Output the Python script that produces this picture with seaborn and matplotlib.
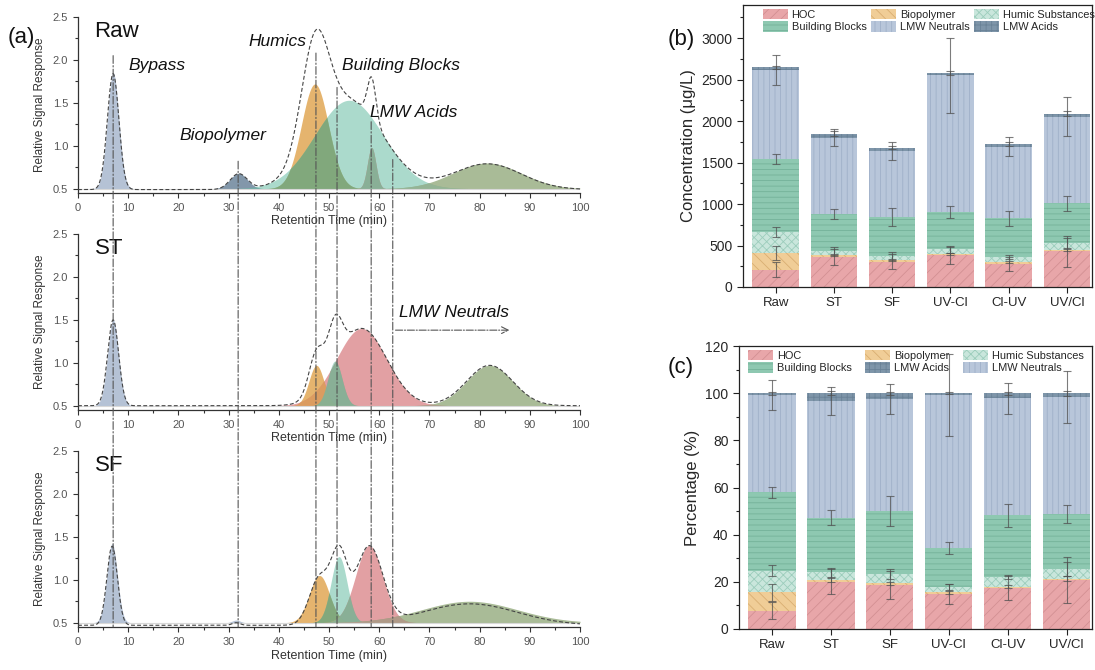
import numpy as np
import pandas as pd
import matplotlib
matplotlib.use("Agg")
import matplotlib.pyplot as plt
import seaborn as sns
from matplotlib.patches import ConnectionPatch, Patch
from matplotlib.ticker import MultipleLocator

sns.set_theme(style="ticks")
plt.rcParams["font.family"] = ["Liberation Sans", "DejaVu Sans"]
plt.rcParams["hatch.linewidth"] = 0.6

# ---------------------------------------------------------------- chromatograms
# each fitted peak: centre (min), apex height above baseline, sigma (min), colour key
raw_center = [7.0, 32.0, 47.2, 54.0, 58.5, 81.5]
raw_height = [1.35, 0.18, 1.22, 1.03, 0.48, 0.30]
raw_sigma = [1.15, 1.7, 2.7, 6.8, 0.85, 6.8]
raw_kind = ["bypass", "biopoly", "orange", "teal", "pink", "olive"]

st_center = [7.0, 47.5, 51.2, 56.5, 82.0]
st_height = [1.0, 0.47, 0.52, 0.90, 0.47]
st_sigma = [1.1, 1.5, 1.4, 5.0, 4.6]
st_kind = ["bypass", "orange", "teal", "pink", "olive"]

sf_center = [6.8, 31.5, 48.1, 52.0, 58.0, 78.0]
sf_height = [0.92, 0.03, 0.55, 0.77, 0.90, 0.25]
sf_sigma = [1.05, 0.8, 2.0, 1.6, 2.7, 9.5]
sf_kind = ["bypass", "bypass", "orange", "teal", "pink", "olive"]

peak_base = [0.5, 0.5, 0.5]          # fill baseline per panel
trace_base = [0.49, 0.5, 0.47]       # baseline of the dashed total trace
panel_names = ["Raw", "ST", "SF"]

# fraction markers: retention time and where the marker starts in the Raw panel
marker_time = [7.0, 31.9, 47.4, 51.6, 58.4, 62.7]
marker_top = [2.05, 0.82, 2.08, 1.68, 1.28, 0.84]

fraction_labels = ["Bypass", "Biopolymer", "Humics", "Building Blocks", "LMW Acids"]
fraction_label_x = [10.0, 20.3, 33.9, 52.6, 58.2]
fraction_label_y = [1.93, 1.12, 2.21, 1.93, 1.39]

peak_colors = {
    "bypass": ((0.59, 0.66, 0.77), 0.70),
    "biopoly": ((0.30, 0.42, 0.53), 0.70),
    "orange": ((0.86, 0.58, 0.19), 0.70),
    "teal": ((0.40, 0.74, 0.64), 0.55),
    "pink": ((0.84, 0.47, 0.49), 0.70),
    "olive": ((0.52, 0.62, 0.42), 0.70),
}
# shade where two peak fills cover each other
overlap_colors = {
    ("orange", "teal"): "#7ea77b",
    ("teal", "pink"): "#82b297",
    ("orange", "pink"): "#dc9f5e",
    ("pink", "olive"): "#b19a8a",
    ("teal", "olive"): "#95b597",
}

# ---------------------------------------------------------------- DOC fractions
samples = ["Raw", "ST", "SF", "UV-Cl", "Cl-UV", "UV/Cl"]
fractions = ["HOC", "Biopolymer", "Humic Substances", "Building Blocks",
             "LMW Neutrals", "LMW Acids"]

conc_hoc = [210, 365, 305, 382, 280, 430]
conc_bio = [200, 15, 15, 16, 18, 15]
conc_hs = [255, 60, 58, 57, 67, 80]
conc_bb = [875, 440, 462, 450, 465, 485]
conc_lmwn = [1075, 920, 798, 1645, 860, 1040]
conc_lmwa = [35, 50, 40, 32, 35, 38]

conc_err_hoc = [95, 95, 90, 100, 85, 190]
conc_err_bio = [85, 10, 10, 12, 10, 15]
conc_err_hs = [58, 40, 40, 40, 25, 60]
conc_err_bb = [58, 62, 108, 70, 90, 88]
conc_err_lmwn = [180, 100, 105, 450, 115, 235]
conc_err_lmwa = [20, 30, 20, 25, 20, 30]

pct_hoc = [7.8, 20.1, 18.6, 14.8, 17.3, 20.8]
pct_bio = [7.7, 0.7, 0.7, 0.7, 0.7, 0.6]
pct_hs = [9.2, 3.2, 4.1, 2.4, 4.0, 4.1]
pct_bb = [33.3, 23.2, 26.7, 16.5, 26.3, 23.2]
pct_lmwn = [41.2, 49.5, 47.4, 64.8, 49.5, 49.6]
pct_lmwa = [0.8, 3.3, 2.5, 0.8, 2.2, 1.7]

pct_err_hoc = [3.5, 5.3, 5.8, 4.2, 5.0, 9.7]
pct_err_bio = [3.5, 0.8, 0.8, 0.6, 0.8, 1.0]
pct_err_hs = [2.3, 1.8, 2.0, 1.3, 0.8, 3.0]
pct_err_bb = [2.3, 3.2, 6.4, 2.5, 4.9, 3.9]
pct_err_lmwn = [6.5, 6.0, 6.3, 17.5, 6.5, 11.0]
pct_err_lmwa = [0.6, 0.8, 0.6, 0.3, 0.6, 1.0]

bar_style = {
    "HOC": ("#e8a6a9", "#d39093", "///"),
    "Biopolymer": ("#f0cd97", "#d9ae72", "\\\\\\"),
    "Humic Substances": ("#c9e6dc", "#9ccdbc", "xxxx"),
    "Building Blocks": ("#8ec8b1", "#74b299", "---"),
    "LMW Neutrals": ("#b8c6da", "#9fb0c8", "|||"),
    "LMW Acids": ("#7e95a9", "#6a8297", "+++"),
}


def long_table(values, errors):
    rows = []
    for frac, vals, errs in zip(fractions, values, errors):
        for s, v, e in zip(samples, vals, errs):
            rows.append({"sample": s, "fraction": frac, "value": v, "err": e})
    df = pd.DataFrame(rows)
    df["fraction"] = pd.Categorical(df["fraction"], fractions, ordered=True)
    df["sample"] = pd.Categorical(df["sample"], samples, ordered=True)
    df = df.sort_values(["sample", "fraction"])
    df["top"] = df.groupby("sample", observed=True)["value"].cumsum()
    return df


conc_df = long_table([conc_hoc, conc_bio, conc_hs, conc_bb, conc_lmwn, conc_lmwa],
                     [conc_err_hoc, conc_err_bio, conc_err_hs, conc_err_bb,
                      conc_err_lmwn, conc_err_lmwa])
pct_df = long_table([pct_hoc, pct_bio, pct_hs, pct_bb, pct_lmwn, pct_lmwa],
                    [pct_err_hoc, pct_err_bio, pct_err_hs, pct_err_bb,
                     pct_err_lmwn, pct_err_lmwa])

# ---------------------------------------------------------------- figure
fig = plt.figure(figsize=(10.95, 6.70), dpi=100)

time = np.linspace(0, 100, 2001)
peak_tables = [
    (raw_center, raw_height, raw_sigma, raw_kind),
    (st_center, st_height, st_sigma, st_kind),
    (sf_center, sf_height, sf_sigma, sf_kind),
]
panel_bottoms = [1 - 193 / 670, 1 - 410 / 670, 1 - 627 / 670]
chrom_axes = []
for i, (centers, heights, sigmas, kinds) in enumerate(peak_tables):
    ax = fig.add_axes([78 / 1095, panel_bottoms[i], 502 / 1095, 176 / 670])
    chrom_axes.append(ax)
    total = np.zeros_like(time)
    curves = []
    for c, h, s, k in zip(centers, heights, sigmas, kinds):
        curve = h * np.exp(-0.5 * ((time - c) / s) ** 2)
        curves.append((k, curve))
        total += curve
        col, a = peak_colors[k]
        ax.fill_between(time, peak_base[i], peak_base[i] + curve,
                        where=curve > 1e-3, color=col, alpha=a, lw=0)
    for a_idx in range(len(curves)):
        for b_idx in range(a_idx + 1, len(curves)):
            ka, ca = curves[a_idx]
            kb, cb = curves[b_idx]
            key = (ka, kb) if (ka, kb) in overlap_colors else (kb, ka)
            if key not in overlap_colors:
                continue
            common = np.minimum(ca, cb)
            ax.fill_between(time, peak_base[i], peak_base[i] + common,
                            where=common > 2e-3, color=overlap_colors[key],
                            alpha=0.9, lw=0)
    ax.axhline(peak_base[i], color="#d8d8d8", lw=0.8, zorder=1)
    trace = pd.DataFrame({"t": time, "signal": trace_base[i] + total})
    sns.lineplot(data=trace, x="t", y="signal", ax=ax, color="#444444",
                 lw=0.8, linestyle=(0, (3.5, 2.0)), zorder=5)
    ax.set_xlim(0, 100)
    ax.set_ylim(0.45, 2.5)
    ax.xaxis.set_major_locator(MultipleLocator(10))
    ax.xaxis.set_minor_locator(MultipleLocator(5))
    ax.yaxis.set_major_locator(MultipleLocator(0.5))
    ax.yaxis.set_minor_locator(MultipleLocator(0.25))
    ax.tick_params(which="both", direction="out", color="#333333",
                   labelsize=8, labelcolor="#555555", width=0.8)
    ax.tick_params(which="major", length=3.5)
    ax.tick_params(which="minor", length=2)
    for sp in ["top", "right"]:
        ax.spines[sp].set_visible(False)
    for sp in ["left", "bottom"]:
        ax.spines[sp].set_color("#333333")
        ax.spines[sp].set_linewidth(0.9)
    ax.set_xlabel("Retention Time (min)", fontsize=9, color="#333333", labelpad=2)
    ax.set_ylabel("Relative Signal Response", fontsize=8.5, color="#333333",
                  labelpad=5)
    ax.text(3.3, 2.33, panel_names[i], fontsize=16, va="center", ha="left",
            color="#111111")

ax_raw, ax_st, ax_sf = chrom_axes
for lab, lx, ly in zip(fraction_labels, fraction_label_x, fraction_label_y):
    ax_raw.text(lx, ly, lab, fontsize=12.5, style="italic", va="center",
                ha="left", color="#111111")
ax_st.text(64.0, 1.58, "LMW Neutrals", fontsize=12.5, style="italic",
           va="center", ha="left", color="#111111")
ax_st.annotate("", xy=(86.5, 1.38), xytext=(marker_time[-1], 1.38),
               arrowprops=dict(arrowstyle="->", linestyle="-.", color="#555555",
                               lw=0.8))

for mx, my in zip(marker_time, marker_top):
    con = ConnectionPatch(xyA=(mx, my), coordsA="data", axesA=ax_raw,
                          xyB=(mx, 0.45), coordsB="data", axesB=ax_sf,
                          color="#555555", lw=0.8,
                          linestyle=(0, (7, 2, 1.2, 2)), zorder=6)
    fig.add_artist(con)

fig.text(8 / 1095, 1 - 38 / 670, "(a)", fontsize=16, va="center", ha="left",
         color="#111111")


# ---------------------------------------------------------------- stacked bars
def stacked_panel(ax, df, legend_order, ylabel, ymax, major, minor, leg_x,
                  col_space):
    for frac in reversed(fractions):
        sub = df[df["fraction"] == frac]
        face, hatch_col, hatch = bar_style[frac]
        sns.barplot(data=sub, x="sample", y="top", order=samples, ax=ax,
                    color=face, saturation=1, errorbar=None, width=0.8,
                    edgecolor=hatch_col, linewidth=0, hatch=hatch)
    ax.errorbar(df["sample"].cat.codes, df["top"], yerr=df["err"], fmt="none",
                ecolor="#505050", elinewidth=0.8, capsize=2.6, capthick=0.8,
                alpha=0.75, zorder=10)
    ax.set_xlim(-0.56, 5.43)
    ax.set_ylim(0, ymax)
    ax.yaxis.set_major_locator(MultipleLocator(major))
    ax.yaxis.set_minor_locator(MultipleLocator(minor))
    ax.tick_params(axis="y", which="both", direction="out", labelsize=10,
                   color="#222222", width=0.8)
    ax.tick_params(axis="y", which="major", length=4)
    ax.tick_params(axis="y", which="minor", length=2.2)
    ax.tick_params(axis="x", direction="out", length=4, labelsize=9.5,
                   color="#222222", width=0.8)
    for sp in ax.spines.values():
        sp.set_color("#222222")
        sp.set_linewidth(0.9)
    ax.set_xlabel("")
    ax.set_ylabel(ylabel, fontsize=12, labelpad=4)
    handles = []
    for frac in legend_order:
        face, hatch_col, hatch = bar_style[frac]
        handles.append(Patch(facecolor=face, edgecolor=hatch_col, hatch=hatch,
                             linewidth=0, label=frac))
    ax.legend(handles=handles, ncol=3, loc="upper left",
              bbox_to_anchor=(leg_x, 1.0), frameon=False, fontsize=7.9,
              handlelength=2.3, handleheight=1.1, columnspacing=col_space,
              handletextpad=0.35, labelspacing=0.15, borderaxespad=0.15,
              borderpad=0.2)


ax_b = fig.add_axes([743 / 1095, 1 - 287 / 670, 349 / 1095, 282 / 670])
ax_c = fig.add_axes([739 / 1095, 1 - 629 / 670, 353 / 1095, 283 / 670])

# legend entries are filled column by column
stacked_panel(ax_b, conc_df,
              ["HOC", "Building Blocks", "Biopolymer", "LMW Neutrals",
               "Humic Substances", "LMW Acids"],
              "Concentration (\u03bcg/L)", 3400, 500, 250, 0.045, 0.4)
stacked_panel(ax_c, pct_df,
              ["HOC", "Building Blocks", "Biopolymer", "LMW Acids",
               "Humic Substances", "LMW Neutrals"],
              "Percentage (%)", 120, 20, 10, 0.015, 1.2)

fig.text(668 / 1095, 1 - 40 / 670, "(b)", fontsize=16, va="center", ha="left",
         color="#111111")
fig.text(668 / 1095, 1 - 368 / 670, "(c)", fontsize=16, va="center", ha="left",
         color="#111111")

fig.savefig("out.png", dpi=100)
